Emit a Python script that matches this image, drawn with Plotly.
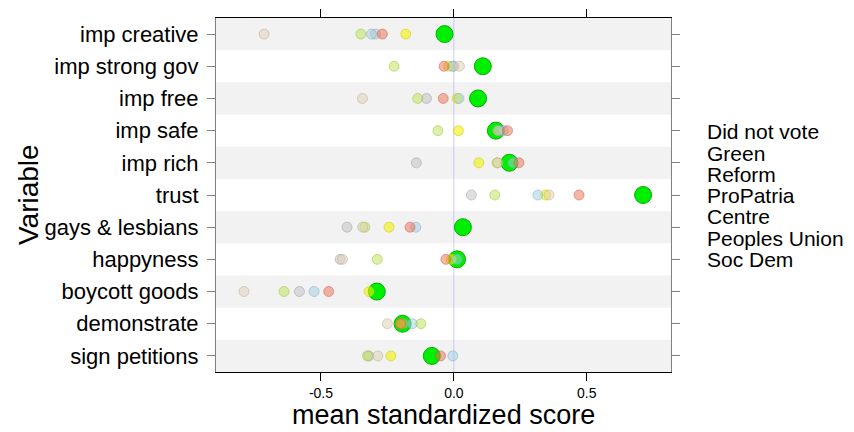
import plotly.graph_objects as go

variables = ["imp creative", "imp strong gov", "imp free", "imp safe", "imp rich", "trust",
             "gays & lesbians", "happyness", "boycott goods", "demonstrate", "sign petitions"]
parties = ["Did not vote", "Green", "Reform", "ProPatria", "Centre", "Peoples Union", "Soc Dem"]

did_not_vote = [-0.295, 0.000, -0.103, 0.170, -0.141, 0.066, -0.402, -0.428, -0.581, -0.190, -0.320]
green = [-0.035, 0.109, 0.091, 0.158, 0.209, 0.712, 0.034, 0.012, -0.290, -0.193, -0.083]
reform = [-0.181, -0.020, 0.012, 0.017, 0.094, 0.345, -0.244, -0.010, -0.319, -0.200, -0.237]
propatria = [-0.310, -0.006, 0.019, 0.186, 0.222, 0.316, -0.143, 0.012, -0.526, -0.156, -0.004]
centre = [-0.350, -0.225, -0.136, -0.060, 0.162, 0.154, -0.335, -0.288, -0.639, -0.124, -0.325]
peoples_union = [-0.714, 0.021, -0.344, 0.165, 0.166, 0.358, -0.343, -0.419, -0.790, -0.250, -0.286]
soc_dem = [-0.269, -0.037, -0.040, 0.202, 0.245, 0.471, -0.165, -0.030, -0.471, -0.200, -0.050]

series = {
    "Did not vote": did_not_vote, "Green": green, "Reform": reform, "ProPatria": propatria,
    "Centre": centre, "Peoples Union": peoples_union, "Soc Dem": soc_dem,
}
faded = {
    "Did not vote": ("rgba(190,190,190,0.5)", "rgba(150,150,150,0.45)"),
    "Reform": ("rgba(240,240,0,0.6)", "rgba(200,200,0,0.5)"),
    "ProPatria": ("rgba(160,205,225,0.5)", "rgba(120,175,205,0.5)"),
    "Centre": ("rgba(185,225,80,0.5)", "rgba(150,195,60,0.5)"),
    "Peoples Union": ("rgba(222,205,180,0.5)", "rgba(190,170,140,0.5)"),
    "Soc Dem": ("rgba(235,110,80,0.5)", "rgba(205,90,70,0.5)"),
}

FONT = "Liberation Sans, Arial, sans-serif"
fig = go.Figure()

fig.add_trace(go.Scatter(
    x=green, y=variables, mode="markers", name="Green",
    marker=dict(size=17, color="#00ee00", line=dict(color="#00b000", width=1)),
))
for p in parties:
    if p == "Green":
        continue
    fc, lc = faded[p]
    fig.add_trace(go.Scatter(
        x=series[p], y=variables, mode="markers", name=p,
        marker=dict(size=10, color=fc, line=dict(color=lc, width=1)),
    ))

shapes = []
order = variables[::-1]
for i in range(0, len(order), 2):
    shapes.append(dict(type="rect", xref="paper", x0=0, x1=1, yref="y", y0=i - 0.5, y1=i + 0.5,
                       fillcolor="#f2f2f2", line=dict(width=0), layer="below"))
shapes.append(dict(type="line", xref="x", x0=0, x1=0, yref="paper", y0=0, y1=1,
                   line=dict(color="rgba(170,170,255,0.6)", width=1), layer="below"))

L, R, T, B = 216, 183, 18, 60
W = 854 - L - R
H = 432 - T - B


def px_x(px):
    return (px - L) / W


def px_y(py):
    return (432 - B - py) / H


annotations = []
legend_px = [131.5, 153, 174.3, 195.5, 216.7, 238, 259.3]
for name, py in zip(parties, legend_px):
    annotations.append(dict(text=name, xref="paper", yref="paper",
                            x=px_x(705), y=px_y(py),
                            xanchor="left", yanchor="middle", showarrow=False,
                            font=dict(size=21, color="black", family=FONT)))
annotations.append(dict(text="mean standardized score", xref="paper", yref="paper",
                        x=0.5, y=px_y(432), xanchor="center", yanchor="bottom",
                        showarrow=False, font=dict(size=27, color="black", family=FONT)))
annotations.append(dict(text="Variable", xref="paper", yref="paper", textangle=-90,
                        x=px_x(28), y=0.5, xanchor="center", yanchor="middle",
                        showarrow=False, font=dict(size=28, color="black", family=FONT)))

fig.update_layout(
    width=854, height=432,
    margin=dict(l=L, r=R, t=T, b=B, autoexpand=False),
    plot_bgcolor="white", paper_bgcolor="white",
    showlegend=False,
    shapes=shapes, annotations=annotations,
    font=dict(family=FONT, color="black"),
    xaxis=dict(range=[-0.895, 0.817], tickvals=[-0.5, 0.0, 0.5], ticktext=["-0.5", "0.0", "0.5"],
               ticks="outside", ticklen=8, tickcolor="black", showline=True, linecolor="black",
               mirror="ticks", showgrid=False, zeroline=False, tickfont=dict(size=14),
               ticklabelstandoff=0, automargin=False),
    yaxis=dict(type="category", categoryarray=order, categoryorder="array", range=[-0.5, 10.5],
               ticks="outside", ticklen=8, tickcolor="#808080", showline=True, linecolor="#808080",
               mirror="ticks", showgrid=False, zeroline=False, tickfont=dict(size=22),
               ticklabelstandoff=4, automargin=False),
)

fig.write_html("out.html")
